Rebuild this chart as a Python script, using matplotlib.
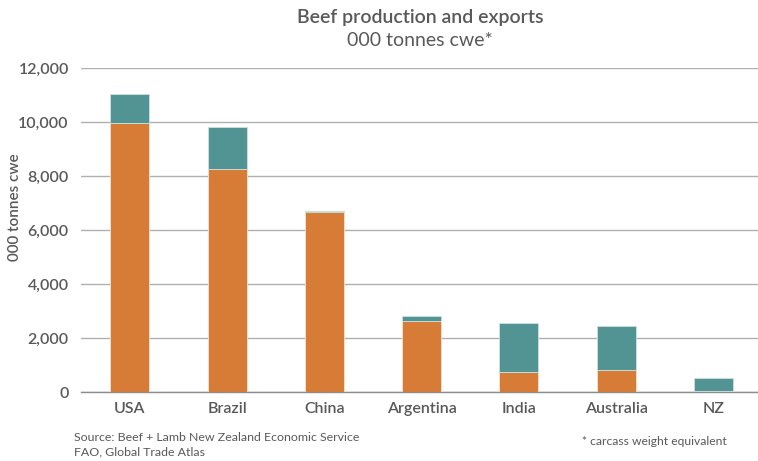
import matplotlib
matplotlib.use("Agg")
import matplotlib.pyplot as plt
import numpy as np

categories = ["USA", "Brazil", "China", "Argentina", "India", "Australia", "NZ"]
domestic = [9960, 8260, 6690, 2630, 765, 840, 35]
exports = [1080, 1570, 30, 195, 1790, 1605, 495]
yticks = [0, 2000, 4000, 6000, 8000, 10000, 12000]

plt.rcParams['font.family'] = ['Lato', 'DejaVu Sans']
txt = '#595959'
orange = '#D67C37'
teal = '#529494'

fig = plt.figure(figsize=(7.58, 4.61), dpi=100)
ax = fig.add_axes([81.3/758, 68.7/461, (762-81.3)/758, (392.3-68.3)/461])

x = np.arange(len(categories))
ax.bar(x, domestic, width=0.4, color=orange, edgecolor='#F3E3D3', linewidth=0.6, zorder=3)
ax.bar(x, exports, width=0.4, bottom=domestic, color=teal, edgecolor='#CFE0E0', linewidth=0.6, zorder=3)

ax.set_xlim(-0.5, 6.5)
ax.set_ylim(0, 12000)
ax.set_yticks(yticks)
ax.set_yticklabels([f"{v:,}" for v in yticks])
ax.set_xticks(x)
ax.set_xticklabels(categories)
ax.tick_params(axis='y', length=0, pad=9, labelsize=11.5, labelcolor=txt)
ax.tick_params(axis='x', length=0, pad=7, labelsize=11.5, labelcolor=txt)
for lab in ax.get_xticklabels() + ax.get_yticklabels():
    lab.set_fontweight('semibold')

ax.grid(axis='y', color='#B0B0B0', linewidth=1, zorder=0)
ax.set_axisbelow(True)
for s in ['top', 'right', 'left']:
    ax.spines[s].set_visible(False)
ax.spines['bottom'].set_color('#8C8C8C')
ax.spines['bottom'].set_linewidth(1)

fig.text(15/758, 1 - 207/461, "000 tonnes cwe", rotation=90, ha='center', va='center',
         fontsize=11, color=txt, fontweight='semibold')
fig.text(420/758, 1 - 18/461, "Beef production and exports", ha='center', va='center',
         fontsize=14, color=txt, fontweight='semibold')
fig.text(420/758, 1 - 41/461, "000 tonnes cwe*", ha='center', va='center',
         fontsize=14, color=txt)

fig.text(74/758, 1 - 437/461, "Source: Beef + Lamb New Zealand Economic Service", ha='left', va='center',
         fontsize=8.9, color=txt)
fig.text(74/758, 1 - 452/461, "FAO, Global Trade Atlas", ha='left', va='center',
         fontsize=8.9, color=txt)
fig.text(582/758, 1 - 441/461, "* carcass weight equivalent", ha='left', va='center',
         fontsize=8.7, color=txt)

fig.savefig("out.png", dpi=100)
